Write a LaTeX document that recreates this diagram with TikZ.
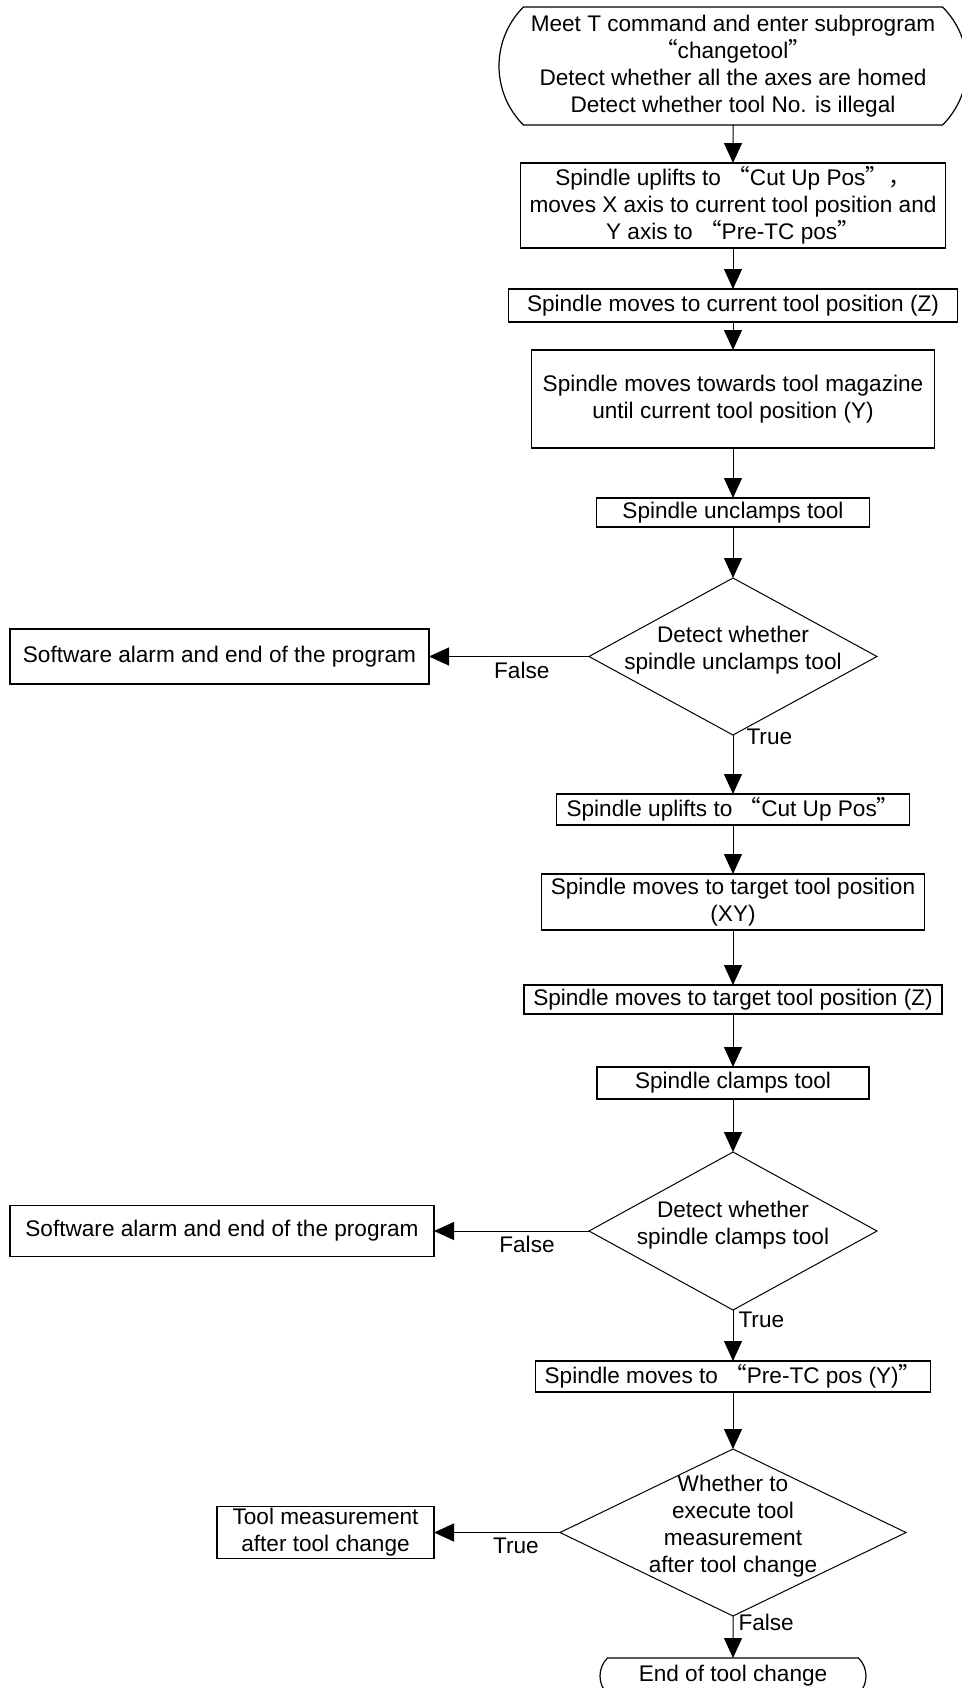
\documentclass[tikz,border=0pt]{standalone}
\usepackage{fontspec}
\setmainfont{Liberation Sans}
\newfontfamily\cjk{Noto Sans CJK SC}
\usepackage{tikz}
\usetikzlibrary{arrows.meta,positioning,shapes.geometric,shapes.misc}
\newcommand{\dtxt}[1]{\makebox[0pt]{\smash{\begin{tabular}{@{}c@{}}#1\end{tabular}}}}

\begin{document}
\begin{tikzpicture}[>={Triangle[length=10pt,width=9pt]},
  every node/.style={font=\fontsize{11.3pt}{13.5pt}\selectfont},
  box/.style={draw,line width=0.6pt,align=center,inner xsep=1pt,inner ysep=0pt,outer sep=0pt},
  term/.style={box,rounded rectangle,rounded rectangle arc length=90},
  dec/.style={draw,line width=0.5pt,diamond,inner sep=0pt,outer sep=0pt},
  flow/.style={->,line width=0.5pt},
  lbl/.style={inner sep=2.5pt}]
\useasboundingbox (0,0) rectangle (481pt,-844pt);
\node[term,minimum width=236pt,minimum height=59pt] (start) at (366.5pt,-33pt) {Meet T command and enter subprogram\\{\cjk “}changetool{\cjk ”}\\Detect whether all the axes are homed\\Detect whether tool No. is illegal};
\node[box,below=19pt of start,minimum width=212.5pt,minimum height=42.5pt] (up) {Spindle uplifts to {\cjk “}Cut Up Pos{\cjk ”，}\\moves X axis to current tool position and\\Y axis to {\cjk “}Pre-TC pos{\cjk ”}};
\node[box,below=20.5pt of up,minimum width=224.5pt,minimum height=16.5pt] (zcur) {Spindle moves to current tool position (Z)};
\node[box,below=14pt of zcur,minimum width=201.5pt,minimum height=49pt] (ycur) {Spindle moves towards tool magazine\\until current tool position (Y)};
\node[box,below=25pt of ycur,minimum width=136.5pt,minimum height=14.5pt] (unclamp) {Spindle unclamps tool};
\node[dec,below=25.5pt of unclamp,minimum width=144pt,minimum height=78.5pt] (chk1) {\dtxt{Detect whether\\spindle unclamps tool}};
\node[box,left=80pt of chk1,minimum width=209.5pt,minimum height=27.5pt] (alarm1) {Software alarm and end of the program};
\node[box,below=29.5pt of chk1,minimum width=176.5pt,minimum height=15.5pt] (lift) {Spindle uplifts to {\cjk “}Cut Up Pos{\cjk ”}};
\node[box,below=24.5pt of lift,minimum width=191.5pt,minimum height=28pt] (xy) {Spindle moves to target tool position\\(XY)};
\node[box,below=27.5pt of xy,minimum width=209pt,minimum height=14.5pt] (ztgt) {Spindle moves to target tool position (Z)};
\node[box,below=26.5pt of ztgt,minimum width=136pt,minimum height=16pt] (clamp) {Spindle clamps tool};
\node[dec,below=26.5pt of clamp,minimum width=144pt,minimum height=79pt] (chk2) {\dtxt{Detect whether\\spindle clamps tool}};
\node[box,left=77.5pt of chk2,minimum width=212pt,minimum height=25.5pt] (alarm2) {Software alarm and end of the program};
\node[box,below=25.5pt of chk2,minimum width=197.5pt,minimum height=15.5pt] (pretc) {Spindle moves to {\cjk “}Pre-TC pos (Y){\cjk ”}};
\node[dec,below=28.5pt of pretc,minimum width=173pt,minimum height=83.5pt] (chk3) {\dtxt{Whether to\\execute tool\\measurement\\after tool change}};
\node[box,left=63pt of chk3,minimum width=108.5pt,minimum height=26pt] (tm) {Tool measurement\\after tool change};
\node[term,below=21pt of chk3,minimum width=135pt,minimum height=18pt] (fin) {End of tool change};
\draw[flow] (start)--(up);\draw[flow] (up)--(zcur);\draw[flow] (zcur)--(ycur);
\draw[flow] (ycur)--(unclamp);\draw[flow] (unclamp)--(chk1);
\draw[flow] (chk1)--node[lbl,below,pos=0.42]{False}(alarm1);
\draw[flow] (chk1)--node[lbl,right,pos=0.03,xshift=4pt]{True}(lift);
\draw[flow] (lift)--(xy);\draw[flow] (xy)--(ztgt);\draw[flow] (ztgt)--(clamp);\draw[flow] (clamp)--(chk2);
\draw[flow] (chk2)--node[lbl,below,pos=0.4]{False}(alarm2);
\draw[flow] (chk2)--node[lbl,right,pos=0.2]{True}(pretc);
\draw[flow] (pretc)--(chk3);
\draw[flow] (chk3)--node[lbl,below,pos=0.35]{True}(tm);
\draw[flow] (chk3)--node[lbl,right,pos=0.15]{False}(fin);
\end{tikzpicture}
\end{document}
